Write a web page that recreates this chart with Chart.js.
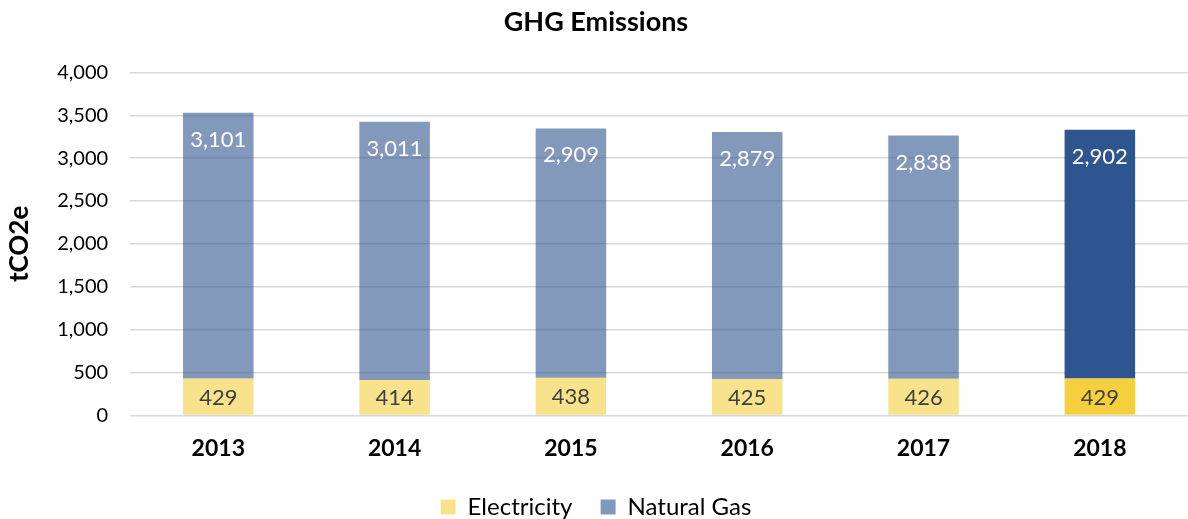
<!DOCTYPE html>
<html>
<head>
<meta charset="utf-8">
<script src="https://cdn.jsdelivr.net/npm/chart.js@4"></script>
<style>
  html, body { margin: 0; padding: 0; background: #fff; }
  #wrap { width: 1188px; height: 519px; }
</style>
</head>
<body>
<div id="wrap"><canvas id="ghgChart"></canvas></div>
<script>
const years = ["2013", "2014", "2015", "2016", "2017", "2018"];
const electricity = [429, 414, 438, 425, 426, 429];
const naturalGas = [3101, 3011, 2909, 2879, 2838, 2902];

// earlier years are faded, 2018 is highlighted
const fadedElec = "rgba(244,208,63,0.6)";
const fadedGas = "rgba(46,85,144,0.6)";
const elecColors = [fadedElec, fadedElec, fadedElec, fadedElec, fadedElec, "#F4D03F"];
const gasColors = [fadedGas, fadedGas, fadedGas, fadedGas, fadedGas, "#2E5590"];

const fontFamily = "Lato, 'Open Sans', sans-serif";

// labels drawn inside the bars
const barLabels = {
    id: "barLabels",
    afterDatasetsDraw(chart) {
        const ctx = chart.ctx;
        ctx.save();
        ctx.font = "22px " + fontFamily;
        ctx.textAlign = "center";
        ctx.textBaseline = "middle";
        chart.data.datasets.forEach((ds, i) => {
            const meta = chart.getDatasetMeta(i);
            meta.data.forEach((bar, j) => {
                const txt = ds.data[j].toLocaleString("en-US");
                if (i === 0) {
                    ctx.fillStyle = "#404040";
                    ctx.fillText(txt, bar.x, (bar.y + bar.base) / 2 + 1);
                } else {
                    ctx.fillStyle = "#ffffff";
                    ctx.fillText(txt, bar.x, bar.y + 27);
                }
            });
        });
        ctx.restore();
    }
};

new Chart(document.getElementById("ghgChart"), {
    type: "bar",
    data: {
        labels: years,
        datasets: [
            { label: "Electricity", data: electricity, backgroundColor: elecColors },
            { label: "Natural Gas", data: naturalGas, backgroundColor: gasColors }
        ]
    },
    options: {
        responsive: true,
        maintainAspectRatio: false,
        animation: false,
        layout: { padding: { left: 4, right: 0, top: 0, bottom: -10 } },
        datasets: { bar: { categoryPercentage: 1, barPercentage: 0.4 } },
        plugins: {
            title: {
                display: true,
                text: "GHG Emissions",
                color: "#000",
                font: { family: fontFamily, size: 27, weight: "bold" },
                padding: { top: 6, bottom: 34 }
            },
            legend: {
                position: "bottom",
                labels: {
                    color: "#000",
                    font: { family: fontFamily, size: 24 },
                    boxWidth: 15,
                    boxHeight: 15,
                    padding: 22,
                    generateLabels: () => [
                        { text: "Electricity ", fillStyle: "#F8E38C", strokeStyle: "#F8E38C", lineWidth: 0 },
                        { text: "Natural Gas", fillStyle: "#7F98BE", strokeStyle: "#7F98BE", lineWidth: 0 }
                    ]
                }
            },
            tooltip: { enabled: false }
        },
        scales: {
            x: {
                stacked: true,
                grid: { display: false },
                border: { display: false },
                ticks: {
                    color: "#000",
                    font: { family: fontFamily, size: 23, weight: "bold" },
                    padding: 11
                }
            },
            y: {
                stacked: true,
                min: 0,
                max: 4000,
                title: {
                    display: true,
                    text: "tCO2e",
                    color: "#000",
                    font: { family: fontFamily, size: 26, weight: "bold" },
                    padding: { top: 0, bottom: 0 }
                },
                grid: { color: "#D9D9D9", lineWidth: 1.5, drawTicks: false },
                border: { display: false },
                ticks: {
                    stepSize: 500,
                    color: "#000",
                    padding: 22,
                    font: { family: fontFamily, size: 20 },
                    callback: v => v.toLocaleString("en-US")
                }
            }
        }
    },
    plugins: [barLabels]
});
</script>
</body>
</html>
